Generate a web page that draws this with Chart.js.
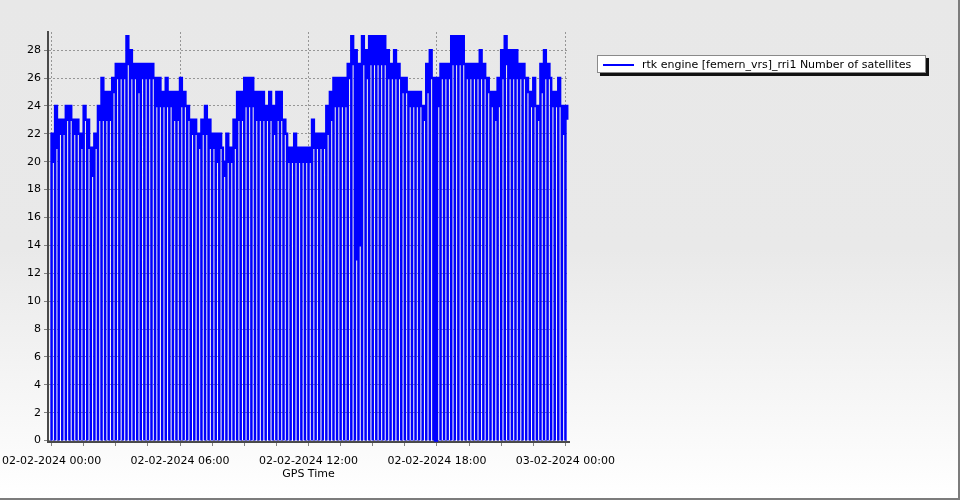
<!DOCTYPE html>
<html>
<head>
<meta charset="utf-8">
<script src="https://cdn.jsdelivr.net/npm/chart.js@4.4.1/dist/chart.umd.min.js"></script>
<style>
  body { margin: 0; }
  #frame {
    position: relative; width: 960px; height: 500px; box-sizing: border-box; overflow: hidden;
    background: linear-gradient(to bottom, #e8e8e8 0%, #e9e9e9 50%, #ffffff 100%);
    border-right: 2px solid #7c7c7c; border-bottom: 2px solid #7c7c7c;
  }
  #chart { position: absolute; left: 0; top: 0; }
  #legend {
    position: absolute; left: 597px; top: 55px; width: 329px; height: 18px; box-sizing: border-box;
    background: #fff; border: 1px solid #8a8a8a; box-shadow: 3px 3px 0 #111;
    font: 11px "DejaVu Sans", sans-serif; color: #000;
  }
  #legend .swatch { position: absolute; left: 5px; top: 8px; width: 31px; height: 2px; background: #0000ff; }
  #legend .text { position: absolute; left: 44px; top: 1px; line-height: 16px; white-space: nowrap; }
</style>
</head>
<body>
<div id="frame">
  <canvas id="chart" width="960" height="500"></canvas>
  <div id="legend"><span class="swatch"></span><span class="text">rtk engine [femern_vrs]_rri1 Number of satellites</span></div>
</div>
<script>
// one reading every 10 minutes from 02-02-2024 00:00, hours from start
var stepHours = 10 / 60;

// highest / lowest number of satellites seen in each 10 minute block
var hiSats = [
  22,24,23,23,24,24,23,23,22,24,23,21,
  22,24,26,25,25,26,27,27,27,29,28,27,
  27,27,27,27,27,26,26,25,26,25,25,25,
  26,25,24,23,23,22,23,24,23,22,22,22,
  20,22,21,23,25,25,26,26,26,25,25,25,
  24,25,24,25,25,23,21,21,22,21,21,21,
  21,23,22,22,22,24,25,26,26,26,26,27,
  29,28,27,29,28,29,29,29,29,29,28,27,
  28,27,26,26,25,25,25,25,24,27,28,26,
  26,27,27,27,29,29,29,29,27,27,27,27,
  28,27,26,25,25,26,28,29,28,28,28,27,
  27,26,25,26,24,27,28,27,25,25,26,24,
  24
];
var loSats = [
  20,21,22,22,23,23,22,22,21,23,21,19,
  21,23,23,23,23,25,26,26,26,27,26,26,
  25,26,26,26,26,24,24,24,24,24,23,23,
  24,24,23,22,22,21,22,22,21,21,20,21,
  19,20,20,21,23,23,24,24,24,23,23,23,
  23,23,22,23,23,22,20,20,20,20,20,20,
  20,21,21,21,21,22,23,24,24,24,24,26,
  27,13,14,27,26,27,27,27,27,27,26,26,
  26,26,25,25,24,24,24,24,23,25,26,0,
  24,26,26,26,27,27,27,27,26,26,26,26,
  26,26,25,24,23,24,26,27,26,26,26,26,
  26,25,24,24,23,25,26,26,24,24,24,22,
  23
];

// x axis
var xMin = -1 / 6, xMax = 24 + 1 / 6;
var xTickHours = [0,1.5,3,4.5,6,7.5,9,10.5,12,13.5,15,16.5,18,19.5,21,22.5,24];
var labelHours = [0, 6, 12, 18, 24];
var xLabels = ['02-02-2024 00:00','02-02-2024 06:00','02-02-2024 12:00','02-02-2024 18:00','03-02-2024 00:00'];

// y axis
var yMin = -0.1, yMax = 29.3;
var yTicks = [0,1,2,3,4,5,6,7,8,9,10,11,12,13,14,15,16,17,18,19,20,21,22,23,24,25,26,27,28,29];

// each block starts with a 0 record (dropout), then the readings
var points = [];
for (var i = 0; i < hiSats.length; i++) {
  var t = i * stepHours;
  points.push({x: t, y: 0});
  points.push({x: t, y: hiSats[i]});
  points.push({x: t + stepHours / 2, y: loSats[i]});
}

var font = {family: 'DejaVu Sans', size: 11};
var clear = 'rgba(0,0,0,0)';

new Chart(document.getElementById('chart'), {
  type: 'line',
  data: {
    datasets: [{
      label: 'rtk engine [femern_vrs]_rri1 Number of satellites',
      data: points,
      borderColor: '#0000ff',
      borderWidth: 2.5,
      pointRadius: 0,
      stepped: true,
      fill: false
    }]
  },
  options: {
    responsive: false,
    animation: false,
    devicePixelRatio: 1,
    layout: {padding: {left: 0, top: 32, right: 391, bottom: 0}},
    plugins: {legend: {display: false}, tooltip: {enabled: false}},
    scales: {
      x: {
        type: 'linear',
        min: xMin,
        max: xMax,
        afterBuildTicks: function(s){
          s.ticks = [xMin].concat(xTickHours, [xMax]).map(function(v){ return {value: v}; });
        },
        afterFit: function(s){ s.height = 58; },
        ticks: {
          autoSkip: false, maxRotation: 0, minRotation: 0, padding: 9, color: '#000', font: font,
          callback: function(v){
            var k = labelHours.indexOf(v);
            return k >= 0 ? xLabels[k] : '';
          }
        },
        grid: {
          tickLength: 4,
          color: function(c){ return c.tick && labelHours.indexOf(c.tick.value) >= 0 ? '#969696' : clear; },
          tickColor: function(c){ return c.tick && (c.tick.value < 0 || c.tick.value > 24) ? clear : '#808080'; }
        },
        border: {display: true, color: '#4a4a4a', width: 2, dash: [2, 2]},
        title: {display: true, text: 'GPS Time', color: '#000', font: font, padding: {top: 0, bottom: 19}}
      },
      y: {
        type: 'linear',
        min: yMin,
        max: yMax,
        afterBuildTicks: function(s){
          s.ticks = yTicks.map(function(v){ return {value: v}; });
        },
        afterFit: function(s){ s.width = 48; },
        ticks: {
          padding: 3, color: '#000', font: font,
          callback: function(v){ return v % 2 === 0 ? String(v) : ''; }
        },
        grid: {
          tickLength: 4,
          color: function(c){ return c.tick && c.tick.value % 2 === 0 ? '#969696' : clear; },
          tickColor: '#808080'
        },
        border: {display: true, color: '#4a4a4a', width: 2, dash: [2, 2]}
      }
    }
  }
});
</script>
</body>
</html>
